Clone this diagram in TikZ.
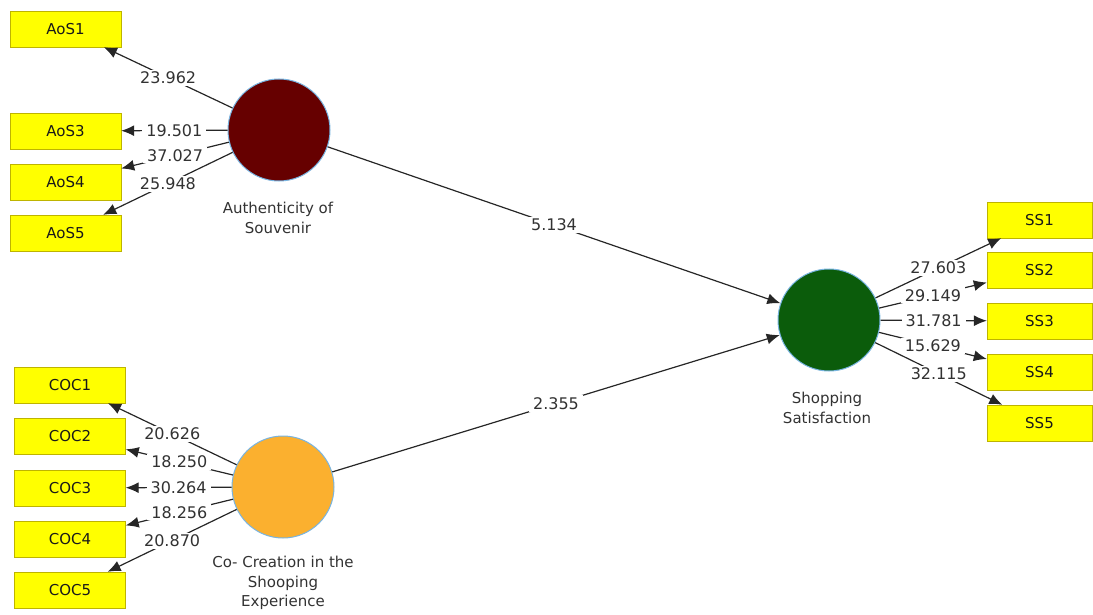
\documentclass[tikz,border=0pt]{standalone}
\usepackage{fontspec}
\setmainfont{DejaVu Sans}
\usetikzlibrary{arrows.meta}
\definecolor{boxfill}{RGB}{255,255,0}
\definecolor{boxline}{RGB}{190,180,0}
\definecolor{aoscol}{RGB}{102,0,0}
\definecolor{coccol}{RGB}{251,176,47}
\definecolor{sscol}{RGB}{11,92,11}
\definecolor{ringcol}{RGB}{120,180,225}
\definecolor{txt}{RGB}{50,50,50}
\begin{document}
\begin{tikzpicture}[x=1pt,y=-1pt,
  ind/.style={draw=boxline, fill=boxfill, minimum width=111pt, minimum height=36pt, inner sep=0pt, text=black!90, font=\fontsize{15}{18}\selectfont},
  ssind/.style={ind, minimum width=105pt},
  lv/.style={circle, draw=ringcol, line width=1pt, minimum size=102pt, inner sep=0pt},
  conn/.style={draw=black!85, line width=1.2pt, -{Latex[length=13pt,width=11pt]}},
  val/.style={fill=white, inner xsep=4pt, inner ysep=2pt, text=txt, font=\fontsize{16}{18}\selectfont},
  lvtext/.style={align=center, text=txt, font=\fontsize{15}{19.5}\selectfont}
]
\useasboundingbox (0,0) rectangle (1093,615);

% latent variables
\node[lv, fill=aoscol] (aos) at (279,130) {};
\node[lv, fill=coccol] (coc) at (283,487) {};
\node[lv, fill=sscol] (ss) at (829,320) {};

\node[lvtext] (aost) at (278,218) {Authenticity of\\Souvenir};
\node[lvtext] (coct) at (283,583) {Co- Creation in the\\Shooping\\Experience};
\node[lvtext] (sst) at (827,408) {Shopping\\Satisfaction};

% indicators
\node[ind] (aos1) at (65.5,29) {AoS1};
\node[ind] (aos3) at (65.5,131) {AoS3};
\node[ind] (aos4) at (65.5,182) {AoS4};
\node[ind] (aos5) at (65.5,233) {AoS5};

\node[ind] (coc1) at (70,385) {COC1};
\node[ind] (coc2) at (70,436) {COC2};
\node[ind] (coc3) at (70,488) {COC3};
\node[ind] (coc4) at (70,539) {COC4};
\node[ind] (coc5) at (70,590) {COC5};

\node[ssind] (ss1) at (1039.5,220) {SS1};
\node[ssind] (ss2) at (1039.5,270) {SS2};
\node[ssind] (ss3) at (1039.5,321) {SS3};
\node[ssind] (ss4) at (1039.5,372) {SS4};
\node[ssind] (ss5) at (1039.5,423) {SS5};

% outer loadings
\draw[conn] (aos) -- node[val]{23.962} (aos1);
\draw[conn] (aos) -- node[val]{19.501} (aos3);
\draw[conn] (aos) -- node[val]{37.027} (aos4);
\draw[conn] (aos) -- node[val]{25.948} (aos5);

\draw[conn] (coc) -- node[val]{20.626} (coc1);
\draw[conn] (coc) -- node[val]{18.250} (coc2);
\draw[conn] (coc) -- node[val]{30.264} (coc3);
\draw[conn] (coc) -- node[val]{18.256} (coc4);
\draw[conn] (coc) -- node[val]{20.870} (coc5);

\draw[conn] (ss) -- node[val]{27.603} (ss1);
\draw[conn] (ss) -- node[val]{29.149} (ss2);
\draw[conn] (ss) -- node[val]{31.781} (ss3);
\draw[conn] (ss) -- node[val]{15.629} (ss4);
\draw[conn] (ss) -- node[val]{32.115} (ss5);

% structural paths
\draw[conn] (aos) -- node[val]{5.134} (ss);
\draw[conn] (coc) -- node[val]{2.355} (ss);
\end{tikzpicture}
\end{document}
